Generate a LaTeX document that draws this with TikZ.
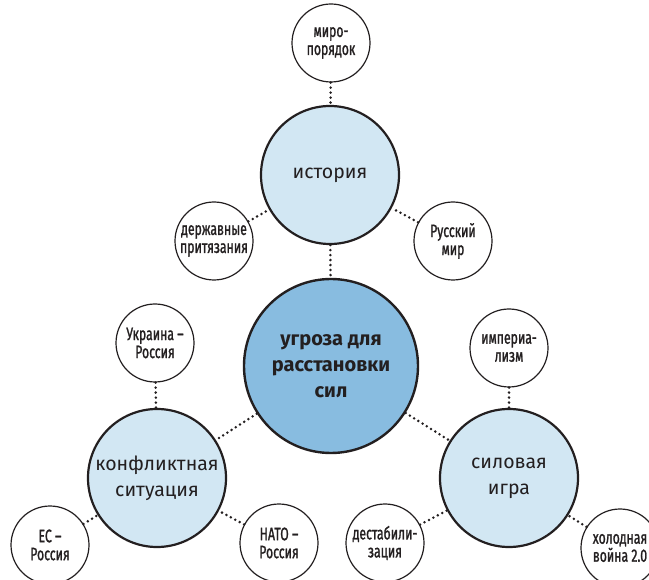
\documentclass[tikz,border=0pt]{standalone}
\usepackage{fontspec}
\setmainfont{Fira Sans}
\newfontfamily\narrowfont[FakeStretch=0.68,FakeBold=1.2]{Fira Sans}
\usetikzlibrary{arrows,shapes}

\definecolor{deepblue}{HTML}{88BCE0}
\definecolor{paleblue}{HTML}{D2E7F3}
\definecolor{ink}{HTML}{231F20}

\begin{document}
\begin{tikzpicture}[x=1pt,y=-1pt]

  \tikzstyle{core}=[circle,line width=2.4pt,draw=ink,fill=deepblue,minimum size=174pt,inner sep=0pt,align=center,text=ink,font=\fontsize{20}{26}\selectfont\bfseries]
  \tikzstyle{branch}=[circle,line width=2.2pt,draw=ink,fill=paleblue,minimum size=138pt,inner sep=0pt,align=center,text=ink,font=\fontsize{19.5}{26}\selectfont]
  \tikzstyle{leaf}=[circle,line width=1.2pt,draw=ink,fill=white,minimum size=78pt,inner sep=0pt,align=center,text=ink,font=\narrowfont\fontsize{18}{18}\selectfont]
  \tikzstyle{link}=[line width=2.8pt,draw=ink,line cap=round,dash pattern=on 0pt off 5pt]

  \useasboundingbox (0,0) rectangle (649,580);
  \clip (0,0) rectangle (649,580);

  % main circles
  \path  (331,366)  node[core]   (threat)   {угроза для\\расстановки\\сил}
         (330,175)  node[branch] (history)  {история}
         (157,478)  node[branch] (conflict) {конфликтная\\ситуация}
         (509,478)  node[branch] (power)    {силовая\\игра};

  % leaves
  \path  (331,43)   node[leaf] (order)   {миро-\\порядок}     edge[link] (history)
         (214,241)  node[leaf] (claims)  {державные\\притязания} edge[link] (history)
         (453,241)  node[leaf] (rusmir)  {Русский\\мир}       edge[link] (history)
         (155,343)  node[leaf] (ukr)     {Украина –\\Россия}  edge[link] (conflict)
         (50,545)   node[leaf] (eu)      {ЕС –\\Россия}       edge[link] (conflict)
         (279,543)  node[leaf] (nato)    {НАТО –\\Россия}     edge[link] (conflict)
         (509,348)  node[leaf] (empire)  {империа-\\лизм}     edge[link] (power)
         (385,543)  node[leaf] (destab)  {дестабили-\\зация}  edge[link] (power)
         (620,548)  node[leaf] (coldwar) {холодная\\война 2.0} edge[link] (power);

  \draw[link] (history) -- (threat);
  \draw[link] (threat) -- (conflict);
  \draw[link] (threat) -- (power);

\end{tikzpicture}
\end{document}
